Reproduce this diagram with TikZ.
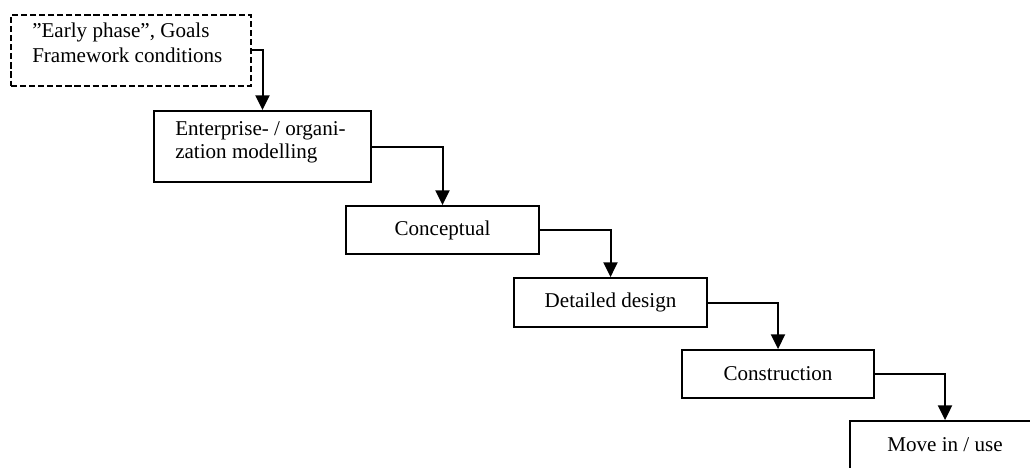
\documentclass[tikz,border=0pt]{standalone}
\usepackage{fontspec}
\setmainfont{Liberation Serif}
\usetikzlibrary{arrows.meta}
\begin{document}
\begin{tikzpicture}[x=0.75pt,y=-0.75pt,
  every node/.style={font=\fontsize{15.8}{17.25}\selectfont},
  phasebox/.style={draw,line width=1.4pt,inner sep=0pt,rectangle},
  prebox/.style={phasebox,dashed,dash pattern=on 4.6pt off 2.2pt},
  boxline/.style={anchor=base west,inner sep=0pt},
  flow/.style={line width=1.5pt,-{Triangle[width=10.5pt,length=11pt]}}]
\useasboundingbox (0,0) rectangle (1030,467);
\clip (0,0) rectangle (1030,467);

% phase boxes
\node[prebox,minimum width=180pt,minimum height=53.25pt] (b1) at (131,50.5) {};
\node[phasebox,minimum width=162.75pt,minimum height=53.25pt] (b2) at (262.5,146.5) {};
\node[phasebox,minimum width=144.75pt,minimum height=36pt] (b3) at (442.5,230) {Conceptual};
\node[phasebox,minimum width=144.75pt,minimum height=36.75pt] (b4) at (610.5,302.5) {Detailed design};
\node[phasebox,minimum width=144pt,minimum height=36pt] (b5) at (778,374) {Construction};
\node[phasebox,minimum width=142.5pt,minimum height=36pt] (b6) at (945,445) {Move in / use};

% left-aligned box texts
\node[boxline] (t1a) at (32,38) {”Early phase”, Goals};
\node[boxline] (t1b) at (32,63) {Framework conditions};
\node[boxline] (t2a) at (175,135) {Enterprise- / organi-};
\node[boxline] (t2b) at (175,158) {zation modelling};

% connectors
\draw[flow] (b1.east) -| (b2.north);
\draw[flow] (b2.east) -| (b3.north);
\draw[flow] (b3.east) -| (b4.north);
\draw[flow] (b4.east) -| (b5.north);
\draw[flow] (b5.east) -| (b6.north);
\end{tikzpicture}
\end{document}
